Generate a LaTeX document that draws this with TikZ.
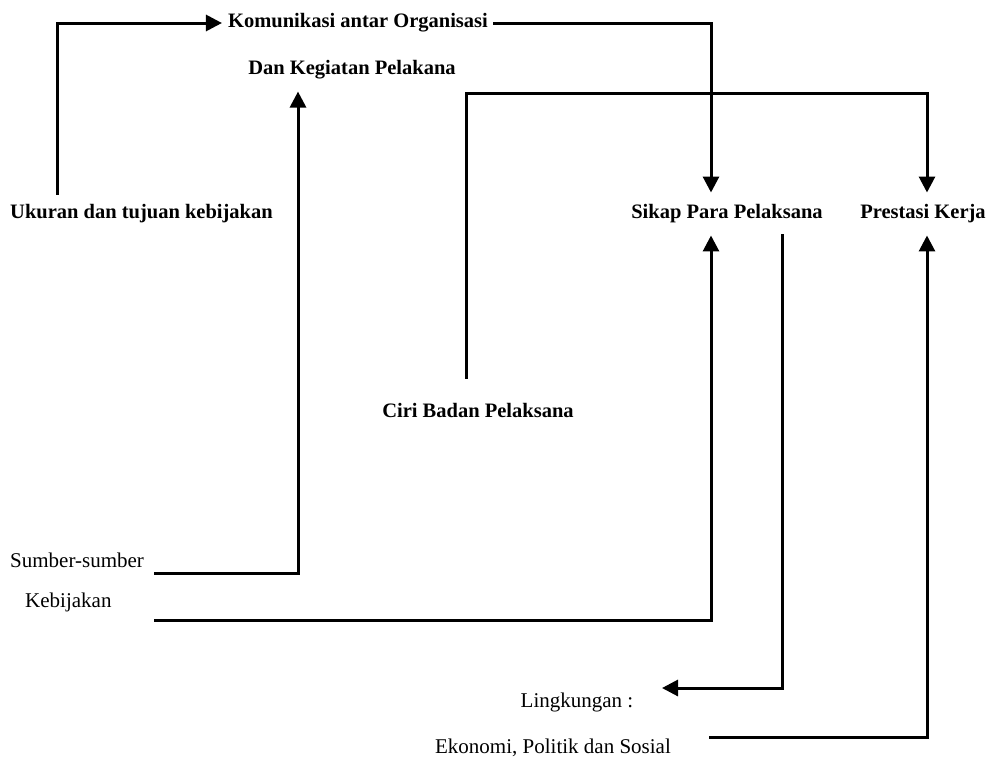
\documentclass[tikz,border=0pt]{standalone}
\usepackage{fontspec}
\setmainfont{Liberation Serif}
\usetikzlibrary{arrows.meta}
\begin{document}
\begin{tikzpicture}[x=1pt,y=-1pt,
  txt/.style={font=\fontsize{21}{24}\selectfont, inner xsep=7pt, inner ysep=12pt},
  btxt/.style={font=\fontsize{20.5}{24}\selectfont\bfseries, inner xsep=6pt, inner ysep=12pt},
  conn/.style={line width=3pt, line cap=rect},
  arr/.style={conn, -{Triangle[length=16pt,width=16pt]}}]
\useasboundingbox (0,0) rectangle (989,761);
% texts
\node[btxt] (kom) at (358,23) {Komunikasi antar Organisasi};
\node[btxt] (dan) at (352,70) {Dan Kegiatan Pelakana};
\node[btxt, anchor=west] (uku) at (4,214) {Ukuran dan tujuan kebijakan};
\node[btxt] (sik) at (727,214) {Sikap Para Pelaksana};
\node[btxt] (pre) at (923,214) {Prestasi Kerja};
\node[btxt] (ciri) at (478,410) {Ciri Badan Pelaksana};
\node[txt, anchor=west] (sum) at (3,560) {Sumber-sumber};
\node[txt, anchor=west] (keb) at (18,602) {Kebijakan};
\node[txt] (lin) at (577,702) {Lingkungan :};
\node[txt] (eko) at (553,748) {Ekonomi, Politik dan Sosial};
% guide coordinates
\coordinate (xs) at (711,0);
\coordinate (xp) at (927,0);
\coordinate (xd) at (298,0);
\coordinate (xm) at (782,0);
\coordinate (c1) at (57,193);
\coordinate (c3) at (466,377);
\coordinate (t3) at (466,93);
\coordinate (c4) at (155,573);
\coordinate (c5) at (155,620);
\coordinate (c6) at (662,688);
\coordinate (c7) at (710,737);
% connectors
\draw[arr] (c1) |- (kom.west);
\draw[arr] (kom.east) -| (sik.north -| xs);
\draw[arr] (c3) -- (t3) -| (pre.north -| xp);
\draw[arr] (c4) -| (dan.south -| xd);
\draw[arr] (c5) -| (sik.south -| xs);
\draw[arr] (sik.south -| xm) |- (c6);
\draw[arr] (c7) -| (pre.south -| xp);
\end{tikzpicture}
\end{document}
